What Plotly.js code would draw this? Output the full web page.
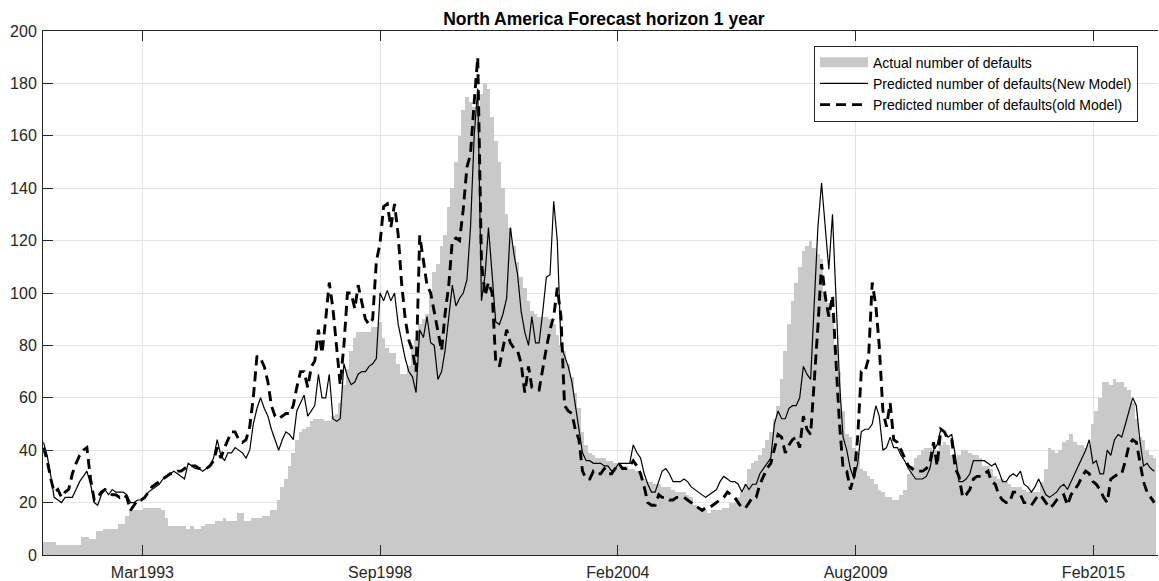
<!DOCTYPE html>
<html><head><meta charset="utf-8">
<script src="https://cdn.plot.ly/plotly-3.0.1.min.js"></script>
<style>html,body{margin:0;padding:0;background:#fff;overflow:hidden}#chart{width:1159px;height:581px}</style>
</head><body><div id="chart"></div>
<script>
// Monthly series, first month = Dec 1990
const startYear = 1990, startMonth = 12;

const actualDefaults = [
5,5,5,5,4,4,4,4,4,4,
4,7,7,6,6,9,9,10,10,10,
10,12,12,15,17,17,17,17,18,18,
18,18,18,17,14,11,11,11,11,11,
10,11,10,10,11,12,12,12,13,13,
14,13,13,13,16,16,13,13,14,14,
14,15,15,17,17,21,26,29,34,39,
44,47,48,49,51,52,52,52,51,51,
53,54,58,65,71,78,83,85,85,85,
85,87,87,89,83,79,77,77,73,69,
69,72,80,82,88,90,92,100,108,111,
118,122,133,140,150,160,170,175,173,171,
170,176,180,178,167,158,150,140,130,125,
118,112,106,102,97,93,92,91,91,91,
90,88,84,80,78,73,68,62,56,47,
42,39,38,37,37,37,36,36,35,34,
34,34,33,33,32,31,29,28,28,27,
27,26,26,26,25,24,24,24,23,22,
19,18,18,17,16,17,17,17,18,18,
20,20,22,24,27,33,35,36,38,41,
44,47,52,57,67,78,88,97,104,110,
116,118,120,117,115,113,100,96,92,80,
70,55,46,45,41,39,33,32,30,29,
27,25,24,22,22,21,21,23,25,31,
34,37,38,40,41,41,40,40,42,43,
42,38,36,38,40,40,39,38,38,37,
34,34,33,30,29,29,28,27,26,26,
26,25,24,24,24,24,28,33,41,40,
39,40,43,44,46,43,42,42,41,42,
50,55,60,66,66,65,67,66,66,64,
63,58,52,45,44,40,38,37
];

const newModel = [
43,38,30,22,21,20,22,22,22,25,
28,30,32,27,20,19,23,25,23,25,
24,24,24,23,20,20,21,21,22,24,
25,26,27,29,30,31,32,31,30,29,
35,34,33,33,32,33,34,37,44,38,
36,39,39,41,40,39,37,40,50,56,
60,56,53,48,44,40,44,47,46,44,
55,58,61,53,55,57,69,60,60,69,
52,51,52,73,68,65,66,69,70,70,
72,73,75,100,97,101,97,100,88,82,
75,70,68,62,86,83,91,81,80,67,
70,78,90,103,95,98,100,105,125,160,
178,97,107,125,107,89,88,92,98,125,
115,107,93,85,80,91,81,81,93,106,
107,135,120,80,76,72,66,58,48,39,
36,36,35,35,35,34,34,32,33,35,
35,35,35,42,39,37,31,27,24,24,
28,32,33,31,28,28,28,29,28,26,
25,24,23,22,23,24,25,28,30,29,
28,28,27,24,27,25,27,27,31,33,
35,37,50,55,52,52,56,57,57,60,
72,69,67,95,125,142,127,109,130,101,
66,45,40,33,29,35,47,48,48,50,
57,53,40,41,45,41,41,38,36,33,
31,29,29,29,30,33,40,42,48,47,
45,46,38,28,28,29,31,36,36,36,
36,35,34,35,32,28,28,30,31,30,
32,27,26,24,26,29,26,23,22,23,
24,26,27,25,28,31,34,37,40,44,
35,36,31,31,40,38,44,46,45,50,
55,60,57,44,34,35,33,32
];

const oldModel = [
41,36,29,24,25,22,24,25,31,35,
38,40,41,29,21,22,24,25,24,23,
23,22,23,22,17,19,21,21,22,24,
26,27,28,29,30,31,31,32,32,33,
34,34,34,33,33,33,34,36,41,37,
41,44,47,47,44,43,44,49,60,76,
75,72,66,57,53,52,53,54,54,57,
64,70,70,64,72,74,86,77,90,104,
94,78,65,80,100,100,94,103,97,90,
88,90,112,119,133,134,125,134,122,104,
90,82,78,70,122,112,103,100,93,86,
78,92,103,120,121,120,132,148,153,173,
190,112,99,104,100,74,72,79,86,81,
79,78,73,62,72,64,63,63,72,79,
86,91,102,91,57,55,54,48,44,32,
29,29,32,31,31,33,31,31,33,35,
33,33,34,36,34,31,26,20,19,19,
23,22,22,21,21,22,22,22,21,20,
19,18,17,18,18,19,20,21,22,24,
23,22,20,18,18,20,22,22,27,30,
33,35,41,46,45,39,42,44,45,41,
53,48,46,66,87,111,99,91,99,75,
50,33,32,25,30,45,70,70,75,104,
95,80,55,49,58,44,43,40,37,34,
33,32,32,32,33,35,43,34,48,47,
44,44,33,30,22,23,25,29,30,30,
31,32,28,27,23,21,20,20,24,24,
23,20,20,19,21,23,22,20,18,19,
21,22,23,19,23,25,27,30,32,31,
28,27,25,22,20,29,30,31,31,36,
42,44,43,35,28,24,22,20
];

const tickDates = ['1993-03-12','1998-09-02','2004-02-23','2009-08-15','2015-02-05'];
const tickLabels = ['Mar1993','Sep1998','Feb2004','Aug2009','Feb2015'];
const seriesNames = ['Actual number of defaults','Predicted number of defaults(New Model)','Predicted number of defaults(old Model)'];

const months = actualDefaults.map((_, i) => {
  const m0 = startMonth - 1 + i;
  const y = startYear + Math.floor(m0 / 12);
  const m = (m0 % 12) + 1;
  return y + '-' + String(m).padStart(2, '0') + '-01';
});

const GRAY = '#c9c9c9';
const AXC = '#262626';
const FONT = 'Liberation Sans, Arial, sans-serif';

const traces = [
  {type:'bar', x:months, y:actualDefaults, width:31*86400000,
   marker:{color:GRAY, line:{width:0}}, showlegend:false, hoverinfo:'skip'},
  {type:'scatter', mode:'lines', x:[null], y:[null], name:seriesNames[0],
   line:{color:GRAY, width:14}},
  {type:'scatter', mode:'lines', x:months, y:newModel, name:seriesNames[1],
   line:{color:'#000', width:1.2}},
  {type:'scatter', mode:'lines', x:months, y:oldModel, name:seriesNames[2],
   line:{color:'#000', width:2.9, dash:'10px,6px'}}
];

const layout = {
  width:1159, height:581,
  margin:{l:43, r:1, t:31, b:26, pad:0},
  paper_bgcolor:'#fff', plot_bgcolor:'#fff',
  font:{family:FONT, color:AXC},
  bargap:0,
  title:{text:'<b>North America Forecast horizon 1 year</b>',
    font:{family:FONT, size:17.5, color:'#000'},
    xref:'paper', x:0.503, xanchor:'center', yref:'container', y:0.968, yanchor:'middle'},
  xaxis:{type:'date', range:['1990-11-27','2016-08-01'],
    tickmode:'array', tickvals:tickDates, ticktext:tickLabels,
    showgrid:true, gridcolor:'#e4e4e4', gridwidth:1,
    ticks:'inside', ticklen:10, tickcolor:AXC, tickwidth:1,
    showline:true, linecolor:AXC, linewidth:1, mirror:'ticks',
    zeroline:false, ticklabelstandoff:3,
    tickfont:{family:FONT, size:16, color:AXC}},
  yaxis:{range:[0,200], tick0:0, dtick:20,
    showgrid:true, gridcolor:'#e4e4e4', gridwidth:1,
    ticks:'inside', ticklen:10, tickcolor:AXC, tickwidth:1,
    showline:true, linecolor:AXC, linewidth:1,
    zeroline:false, ticklabelstandoff:2,
    tickfont:{family:FONT, size:16, color:AXC}},
  legend:{x:0.6915, y:0.972, xanchor:'left', yanchor:'top',
    bgcolor:'#fff', bordercolor:AXC, borderwidth:1,
    font:{family:FONT, size:14, color:'#000'}, tracegroupgap:0, itemwidth:48},
  showlegend:true
};

Plotly.newPlot('chart', traces, layout, {staticPlot:true, displayModeBar:false});
</script>
</body></html>
